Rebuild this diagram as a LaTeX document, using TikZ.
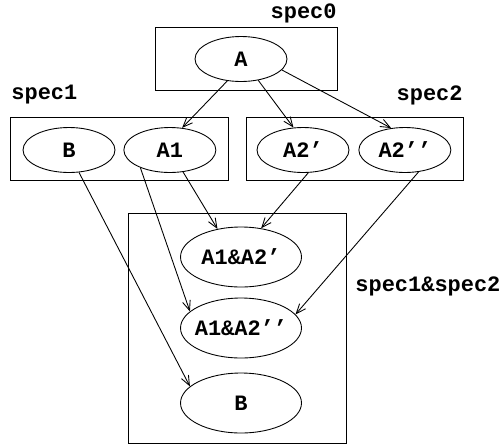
\documentclass[tikz,border=0pt]{standalone}
\usepackage{fontspec}
\setmonofont{Liberation Mono}
\usetikzlibrary{arrows.meta,positioning,shapes.geometric}

\begin{document}
\begin{tikzpicture}[->,>={Straight Barb[length=5.5pt,width=4.5pt]},x=0.02cm,y=-0.02cm,
	line width=0.5pt,font=\ttfamily\bfseries\fontsize{12.5}{15}\selectfont,
	spec node/.style={ellipse,draw,inner sep=0pt,minimum width=1.84cm,minimum height=0.9cm},
	join node/.style={spec node,inner xsep=-4pt,minimum width=2.42cm,minimum height=1.2cm},
	spec box/.style={rectangle,draw,inner sep=0pt},
	spec label/.style={inner sep=0pt}]
	
	\useasboundingbox (0,0) rectangle (500,444);
	
	% boxes
	\node[spec box,minimum width=3.64cm,minimum height=1.26cm] (spec0) at (246,58.5) {};
	\node[spec box,minimum width=4.36cm,minimum height=1.26cm] (spec1) at (119,148.5) {};
	\node[spec box,minimum width=4.34cm,minimum height=1.26cm] (spec2) at (354.5,148.5) {};
	\node[spec box,minimum width=4.36cm,minimum height=4.6cm] (spec12) at (237,328) {};
	
	\node[spec label,anchor=east] (l0) at (337,13) {spec0};
	\node[spec label,anchor=west] (l1) at (11,95) {spec1};
	\node[spec label,anchor=east] (l2) at (463,95) {spec2};
	\node[spec label,anchor=west] (l12) at (355,286) {spec1\&spec2};
	
	% ellipses
	\node[spec node] (A) at (241,59) {A};
	\node[spec node] (B) at (69,150) {B};
	\node[spec node] (A1) [right=0.16cm of B] {A1};
	\node[spec node] (A2p) at (303,150) {A2’};
	\node[spec node] (A2pp) [right=0.18cm of A2p] {A2’’};
	\node[join node] (J1) at (241,257) {A1\&A2’};
	\node[join node] (J2) at (241,328) {A1\&A2’’};
	\node[join node] (JB) at (241,403) {B};
	
	\path
	(A.238) edge (A1.61)
	(A.309) edge (A2p.113)
	(A.345) edge (A2pp.122)
	(B.294) edge (JB.162)
	(A1.211) edge (J2.162)
	(A1.301) edge (J1.130)
	(A2p.283) edge (J1.55)
	(A2pp.302) edge (J2.14);
	
\end{tikzpicture}
\end{document}
